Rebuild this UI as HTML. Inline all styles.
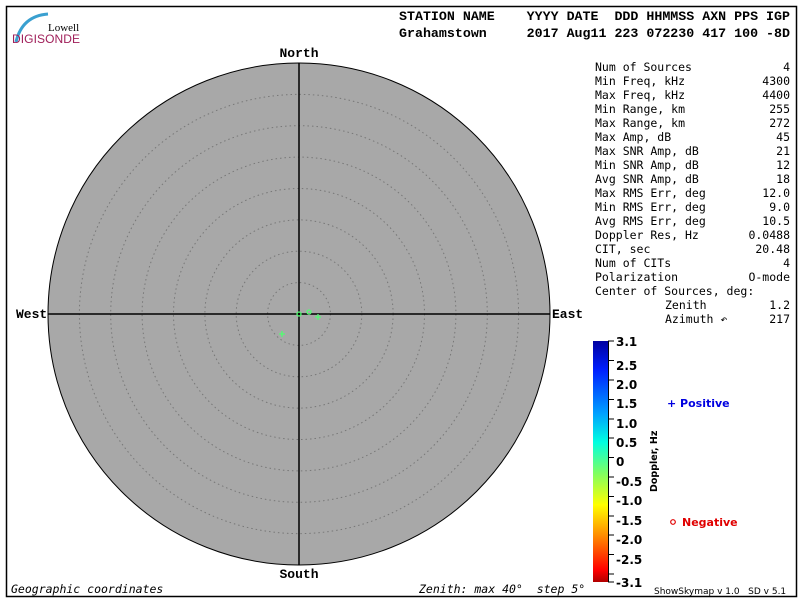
<!DOCTYPE html>
<html><head><meta charset="utf-8"><style>
body{margin:0;background:#fff}
svg{display:block}
text{white-space:pre}
.h{font-family:"Liberation Mono",monospace;font-weight:bold;font-size:13.3px}
.s{font-family:"DejaVu Sans Mono","Liberation Mono",monospace;font-size:11.5px}
.c{font-family:"Liberation Mono",monospace;font-weight:bold;font-size:13px}
.t{font-family:"DejaVu Sans",sans-serif;font-weight:bold;font-size:12px}
</style></head><body>
<svg width="800" height="600" xmlns="http://www.w3.org/2000/svg" xml:space="preserve">
<defs>
<linearGradient id="g" x1="0" y1="0" x2="0" y2="1">
<stop offset="0" stop-color="#0000a0"/><stop offset="0.12" stop-color="#0020ff"/>
<stop offset="0.3" stop-color="#00a0ff"/><stop offset="0.42" stop-color="#00ffe0"/>
<stop offset="0.55" stop-color="#80ff60"/><stop offset="0.68" stop-color="#ffff00"/>
<stop offset="0.82" stop-color="#ff8000"/><stop offset="0.95" stop-color="#ff0000"/>
<stop offset="1" stop-color="#b00000"/></linearGradient>
</defs>
<rect x="6.5" y="6.5" width="790" height="590" fill="none" stroke="#000" stroke-width="1.5"/>
<path d="M16 42 Q22 16 48 14" fill="none" stroke="#3aa0d0" stroke-width="3"/>
<text x="48" y="31" font-family="Liberation Serif,serif" font-size="11">Lowell</text>
<text x="12" y="43" font-family="Liberation Sans,sans-serif" font-size="12" fill="#a0205a" textLength="68">DIGISONDE</text>
<text x="399" y="20" class="h">STATION NAME    YYYY DATE  DDD HHMMSS AXN PPS IGP</text>
<text x="399" y="37" class="h">Grahamstown     2017 Aug11 223 072230 417 100 -8D</text>
<circle cx="299" cy="314" r="251" fill="#a8a8a8" stroke="#000" stroke-width="1"/>
<g fill="none" stroke="#777" stroke-width="1" stroke-dasharray="1.5,3">
<circle cx="299" cy="314" r="31.4"/><circle cx="299" cy="314" r="62.8"/><circle cx="299" cy="314" r="94.1"/><circle cx="299" cy="314" r="125.5"/><circle cx="299" cy="314" r="156.9"/><circle cx="299" cy="314" r="188.3"/><circle cx="299" cy="314" r="219.6"/></g>
<line x1="299" y1="63" x2="299" y2="565" stroke="#000" stroke-width="1.5"/>
<line x1="48" y1="314" x2="550" y2="314" stroke="#000" stroke-width="1.5"/>
<text x="299" y="57" class="c" text-anchor="middle">North</text>
<text x="299" y="578" class="c" text-anchor="middle">South</text>
<text x="16" y="318" class="c">West</text>
<text x="552" y="318" class="c">East</text>
<g stroke="#50ff70" fill="none" stroke-width="1.3">
<circle cx="299" cy="314" r="2"/><circle cx="309" cy="312" r="2"/>
<path d="M315 317h6M318 314v6M279 334h6M282 331v6"/></g>
<g class="s">
<text x="595" y="71">Num of Sources</text><text x="790" y="71" text-anchor="end">4</text>
<text x="595" y="85">Min Freq, kHz</text><text x="790" y="85" text-anchor="end">4300</text>
<text x="595" y="99">Max Freq, kHz</text><text x="790" y="99" text-anchor="end">4400</text>
<text x="595" y="113">Min Range, km</text><text x="790" y="113" text-anchor="end">255</text>
<text x="595" y="127">Max Range, km</text><text x="790" y="127" text-anchor="end">272</text>
<text x="595" y="141">Max Amp, dB</text><text x="790" y="141" text-anchor="end">45</text>
<text x="595" y="155">Max SNR Amp, dB</text><text x="790" y="155" text-anchor="end">21</text>
<text x="595" y="169">Min SNR Amp, dB</text><text x="790" y="169" text-anchor="end">12</text>
<text x="595" y="183">Avg SNR Amp, dB</text><text x="790" y="183" text-anchor="end">18</text>
<text x="595" y="197">Max RMS Err, deg</text><text x="790" y="197" text-anchor="end">12.0</text>
<text x="595" y="211">Min RMS Err, deg</text><text x="790" y="211" text-anchor="end">9.0</text>
<text x="595" y="225">Avg RMS Err, deg</text><text x="790" y="225" text-anchor="end">10.5</text>
<text x="595" y="239">Doppler Res, Hz</text><text x="790" y="239" text-anchor="end">0.0488</text>
<text x="595" y="253">CIT, sec</text><text x="790" y="253" text-anchor="end">20.48</text>
<text x="595" y="267">Num of CITs</text><text x="790" y="267" text-anchor="end">4</text>
<text x="595" y="281">Polarization</text><text x="790" y="281" text-anchor="end">O-mode</text>
<text x="595" y="295">Center of Sources, deg:</text>
<text x="665" y="309">Zenith</text><text x="790" y="309" text-anchor="end">1.2</text>
<text x="665" y="323">Azimuth ↶</text><text x="790" y="323" text-anchor="end">217</text>
</g>
<rect x="593" y="341" width="15" height="241" fill="url(#g)"/>
<g stroke="#000" stroke-width="1">
<line x1="608.5" y1="341" x2="608.5" y2="582"/>
<path d="M608 341h6M608 360.5h6M608 380h6M608 399.5h6M608 419h6M608 438h6M608 457.5h6M608 477h6M608 496.5h6M608 516h6M608 535h6M608 554.5h6M608 574h6M608 582h6"/>
</g>
<g class="t">
<text x="616" y="346">3.1</text><text x="616" y="370">2.5</text><text x="616" y="389">2.0</text><text x="616" y="408">1.5</text><text x="616" y="428">1.0</text><text x="616" y="447">0.5</text><text x="616" y="466">0</text><text x="616" y="486">-0.5</text><text x="616" y="505">-1.0</text><text x="616" y="525">-1.5</text><text x="616" y="544">-2.0</text><text x="616" y="564">-2.5</text><text x="616" y="587">-3.1</text>
</g>
<text transform="translate(657,492) rotate(-90)" font-family="DejaVu Sans,sans-serif" font-weight="bold" font-size="9.5">Doppler, Hz</text>
<text x="667" y="407" font-family="DejaVu Sans,sans-serif" font-size="11" font-weight="bold" fill="#0000e0">+ Positive</text>
<circle cx="673" cy="522" r="2.3" fill="none" stroke="#e00000" stroke-width="1.2"/>
<text x="682" y="526" font-family="DejaVu Sans,sans-serif" font-size="11" font-weight="bold" fill="#e00000">Negative</text>
<text x="11" y="593" font-family="DejaVu Sans Mono,monospace" font-style="italic" font-size="11.5">Geographic coordinates</text>
<text x="419" y="593" font-family="DejaVu Sans Mono,monospace" font-style="italic" font-size="11.5">Zenith: max 40°  step 5°</text>
<text x="654" y="594" font-family="DejaVu Sans,sans-serif" font-size="9">ShowSkymap v 1.0   SD v 5.1</text>
</svg>
</body></html>
